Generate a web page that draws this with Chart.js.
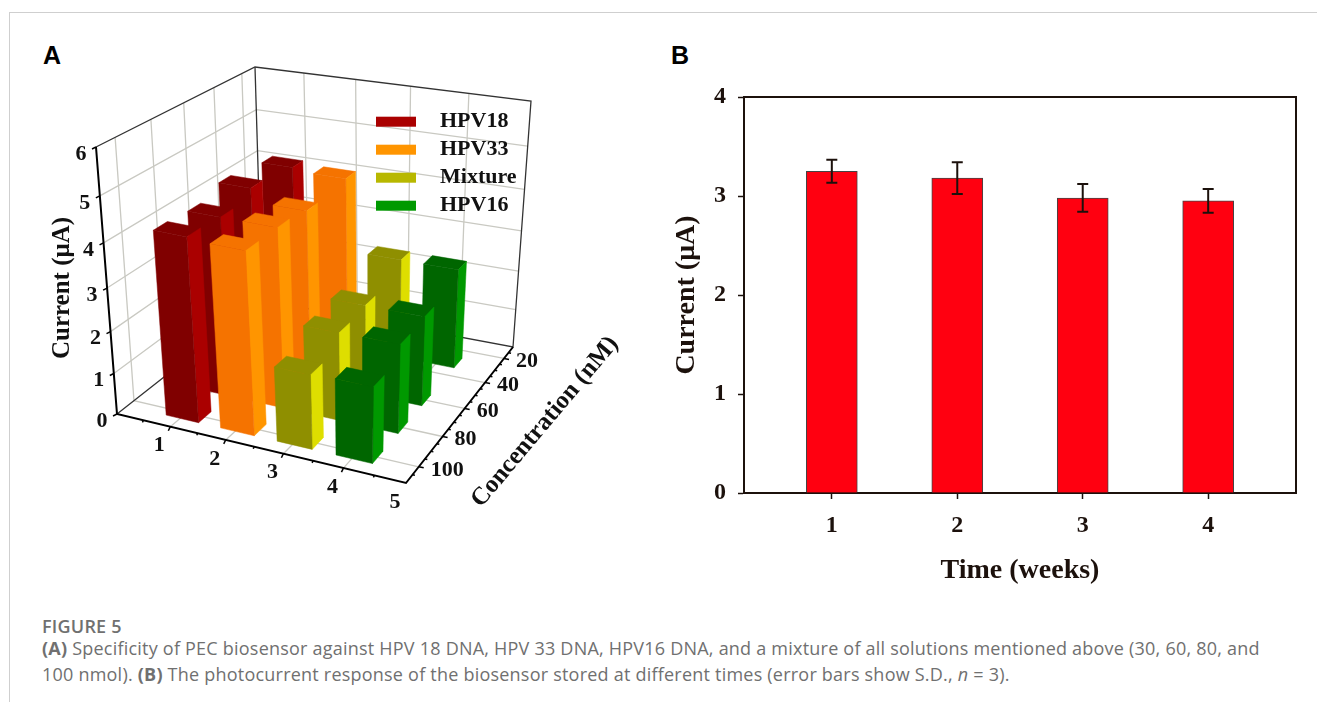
<!DOCTYPE html>
<html>
<head>
<meta charset="utf-8">
<title>Figure 5</title>
<script src="https://cdn.jsdelivr.net/npm/chart.js@4"></script>
<style>
  html, body { margin: 0; padding: 0; background: #fff; width: 1317px; height: 702px; overflow: hidden; }
  canvas { position: absolute; }
  .frame { position: absolute; left: 9px; top: 12px; width: 1308px; height: 690px; border-top: 1px solid #cfcfcf; border-left: 1px solid #cfcfcf; }
  .panel { position: absolute; font: 700 25px "Liberation Sans", sans-serif; color: #000; line-height: 25px; }
  .cap { position: absolute; left: 42px; font: 400 18px "Open Sans", sans-serif; letter-spacing: 0.22px; color: #707070; white-space: nowrap; line-height: 20px; }
</style>
</head>
<body>
<div class="frame"></div>
<div class="panel" style="left:43px;top:43px">A</div>
<div class="panel" style="left:671px;top:43px">B</div>
<canvas id="chartA" width="660" height="560" style="left:0;top:0"></canvas>
<canvas id="chartB" width="650" height="530" style="left:660px;top:60px"></canvas>
<div class="cap" style="top:616px;font-weight:600;">FIGURE 5</div>
<div class="cap" style="top:638px;"><b>(A)</b> Specificity of PEC biosensor against HPV 18 DNA, HPV 33 DNA, HPV16 DNA, and a mixture of all solutions mentioned above (30, 60, 80, and</div>
<div class="cap" style="top:664px;">100 nmol). <b>(B)</b> The photocurrent response of the biosensor stored at different times (error bars show S.D., <i>n</i> = 3).</div>

<script>
// panel A data
const seriesNames = ["HPV18", "HPV33", "Mixture", "HPV16"];
const concentrations = [100, 80, 60, 30];
const hpv18 = [4.3, 4.25, 4.45, 4.3];
const hpv33 = [4.25, 4.25, 4.15, 4.23];
const mixture = [1.78, 2.13, 2.2, 2.5];
const hpv16 = [1.82, 2.15, 2.2, 2.5];
const xTicks3d = [1, 2, 3, 4, 5];
const yTicks3d = [0, 1, 2, 3, 4, 5, 6];
const zTicks3d = [100, 80, 60, 40, 20];

// panel B data
const weeks = [1, 2, 3, 4];
const currentB = [3.25, 3.18, 2.98, 2.95];
const errorB = [0.115, 0.16, 0.14, 0.12];
const yTicksB = [0, 1, 2, 3, 4];

const seriesValues = [hpv18, hpv33, mixture, hpv16];
const faceColors = [
  { front: "#800000", side: "#aa0000", top: "#800000", key: "#aa0000" },
  { front: "#f57300", side: "#ff9500", top: "#f57300", key: "#ff9500" },
  { front: "#8f8f00", side: "#dede00", top: "#8f8f00", key: "#b8b800" },
  { front: "#006600", side: "#009900", top: "#006600", key: "#009900" },
];
const serif = '"Liberation Serif", serif';

// unit square -> quad, the frame of the 3d box
function homography(q) {
  const [p0, p1, p2, p3] = q;
  const dx1 = p1[0] - p2[0], dx2 = p3[0] - p2[0], sx = p0[0] - p1[0] + p2[0] - p3[0];
  const dy1 = p1[1] - p2[1], dy2 = p3[1] - p2[1], sy = p0[1] - p1[1] + p2[1] - p3[1];
  const det = dx1 * dy2 - dx2 * dy1;
  const g = (sx * dy2 - dx2 * sy) / det, h = (dx1 * sy - sx * dy1) / det;
  const a = p1[0] - p0[0] + g * p1[0], b = p3[0] - p0[0] + h * p3[0];
  const d = p1[1] - p0[1] + g * p1[1], e = p3[1] - p0[1] + h * p3[1];
  return (u, v) => {
    const w = g * u + h * v + 1;
    return [(a * u + b * v + p0[0]) / w, (d * u + e * v + p0[1]) / w];
  };
}

const floorMap = homography([[117, 414], [406, 483], [513, 347], [262, 300]]);
const ceilMap = homography([[96, 147], [416, 207], [531, 101], [255, 67]]);
const X_MAX = 5, Y_MAX = 6, Z_FRONT = 110, Z_BACK = 10, Y_PERSP = 1.12;

function project(x, y, z) {
  const u = x / X_MAX;
  const v = (Z_FRONT - z) / (Z_FRONT - Z_BACK);
  const t = y / Y_MAX;
  const s = t / (t + (1 - t) * Y_PERSP);
  const f = floorMap(u, v), c = ceilMap(u, v);
  return { x: f[0] + (c[0] - f[0]) * s, y: f[1] + (c[1] - f[1]) * s };
}

const datasets3d = [];
function addPath(points, color, width) {
  datasets3d.push({
    data: points, borderColor: color, borderWidth: width, backgroundColor: color,
    fill: false, pointRadius: 0, tension: 0, order: -datasets3d.length,
  });
}
function addFace(points, color) {
  datasets3d.push({
    data: [...points, points[0]], borderColor: color, borderWidth: 0.5, backgroundColor: color,
    fill: "shape", pointRadius: 0, tension: 0, order: -datasets3d.length,
  });
}

const GRID = "#c9c9c2", FRAME = "#333", AXIS = "#000";

// grid on walls and floor
yTicks3d.slice(1, -1).forEach((y) => {
  addPath([project(0, y, Z_FRONT), project(0, y, Z_BACK), project(X_MAX, y, Z_BACK)], GRID, 1.3);
});
xTicks3d.slice(0, -1).forEach((x) => {
  addPath([project(x, 0, Z_FRONT), project(x, 0, Z_BACK), project(x, Y_MAX, Z_BACK)], GRID, 1.3);
});
zTicks3d.forEach((z) => {
  addPath([project(X_MAX, 0, z), project(0, 0, z), project(0, Y_MAX, z)], GRID, 1.3);
});

// box frame
addPath([project(0, Y_MAX, Z_FRONT), project(0, Y_MAX, Z_BACK), project(X_MAX, Y_MAX, Z_BACK), project(X_MAX, 0, Z_BACK), project(0, 0, Z_BACK), project(0, 0, Z_FRONT)], FRAME, 1.3);
addPath([project(0, 0, Z_BACK), project(0, Y_MAX, Z_BACK)], FRAME, 1.3);

// bars, far ones first so nearer ones paint over them
const BAR_HALF_X = 0.3, BAR_HALF_Z = 4, BAR_SHIFT_X = 0.04;
seriesNames.forEach((name, i) => {
  const cx = i + 1 + BAR_SHIFT_X;
  const x0 = cx - BAR_HALF_X, x1 = cx + BAR_HALF_X;
  const rows = concentrations.map((z, j) => ({ z, h: seriesValues[i][j] })).sort((a, b) => a.z - b.z);
  rows.forEach(({ z, h }) => {
    const zb = z - BAR_HALF_Z, zf = z + BAR_HALF_Z;
    addFace([project(x0, h, zf), project(x1, h, zf), project(x1, h, zb), project(x0, h, zb)], faceColors[i].top);
    addFace([project(x1, 0, zf), project(x1, 0, zb), project(x1, h, zb), project(x1, h, zf)], faceColors[i].side);
    addFace([project(x0, 0, zf), project(x1, 0, zf), project(x1, h, zf), project(x0, h, zf)], faceColors[i].front);
  });
});

// axes and ticks, these sit on the front edges
addPath([project(0, Y_MAX, Z_FRONT), project(0, 0, Z_FRONT), project(X_MAX, 0, Z_FRONT), project(X_MAX, 0, Z_BACK)], AXIS, 2);
yTicks3d.forEach((y) => {
  const p = project(0, y, Z_FRONT);
  addPath([p, { x: p.x - 4, y: p.y + 2 }], AXIS, 1.5);
});
[1, 1.5, 2, 2.5, 3, 3.5, 4, 4.5, 0.5].forEach((x) => {
  const p = project(x, 0, Z_FRONT);
  const len = Number.isInteger(x) ? 4 : 2;
  addPath([p, { x: p.x - len * 0.5, y: p.y + len }], AXIS, 1.5);
});
[105, 100, 95, 90, 85, 80, 75, 70, 65, 60, 55, 50, 45, 40, 35, 30, 25, 20, 15].forEach((z) => {
  const p = project(X_MAX, 0, z);
  const len = z % 20 === 0 ? 5 : 2.5;
  addPath([p, { x: p.x + len, y: p.y + len * 0.2 }], AXIS, 1.5);
});

const labels3d = {
  id: "labels3d",
  afterDatasetsDraw(chart) {
    const ctx = chart.ctx;
    ctx.save();
    ctx.fillStyle = "#111";
    ctx.textBaseline = "middle";
    ctx.font = `bold 22px ${serif}`;
    ctx.textAlign = "center";
    yTicks3d.forEach((y) => {
      const p = project(0, y, Z_FRONT);
      ctx.fillText(String(y), p.x - 15, p.y + 7);
    });
    xTicks3d.forEach((x) => {
      const p = project(x, 0, Z_FRONT);
      ctx.fillText(String(x), p.x - 11, p.y + 19);
    });
    ctx.textAlign = "left";
    zTicks3d.forEach((z) => {
      const p = project(X_MAX, 0, z);
      ctx.fillText(String(z), p.x + 12, p.y + 3);
    });

    // legend
    ctx.font = `bold 22px ${serif}`;
    seriesNames.forEach((name, i) => {
      const ly = 121.7 + i * 28;
      ctx.fillStyle = faceColors[i].key;
      ctx.fillRect(376, ly - 5, 40, 10);
      ctx.fillStyle = "#111";
      ctx.fillText(name, 440, ly);
    });

    // axis titles
    ctx.font = `bold 25px ${serif}`;
    ctx.textAlign = "center";
    ctx.save();
    ctx.translate(63, 288);
    ctx.rotate(-Math.PI / 2);
    ctx.fillText("Current (\u03bcA)", 0, 0);
    ctx.restore();
    ctx.save();
    ctx.translate(545, 422);
    ctx.rotate((-50 * Math.PI) / 180);
    ctx.fillText("Concentration (nM)", 0, 0);
    ctx.restore();
    ctx.restore();
  },
};

new Chart(document.getElementById("chartA"), {
  type: "line",
  data: { datasets: datasets3d },
  plugins: [labels3d],
  options: {
    responsive: false,
    animation: false,
    layout: { padding: 0 },
    clip: false,
    plugins: { legend: { display: false }, tooltip: { enabled: false }, filler: { propagate: false } },
    scales: {
      x: { type: "linear", display: false, min: 0, max: 660 },
      y: { type: "linear", display: false, min: 0, max: 560, reverse: true },
    },
  },
});

const INK = "#1c110c";

// draws the S.D. whiskers from the same scales as the bars
const errorBars = {
  id: "errorBars",
  afterDatasetsDraw(chart) {
    const { ctx, scales } = chart;
    ctx.save();
    ctx.strokeStyle = INK;
    ctx.lineWidth = 2;
    weeks.forEach((w, i) => {
      const px = scales.x.getPixelForValue(w);
      const hi = scales.y.getPixelForValue(currentB[i] + errorB[i]);
      const lo = scales.y.getPixelForValue(currentB[i] - errorB[i]);
      ctx.beginPath();
      ctx.moveTo(px, hi);
      ctx.lineTo(px, lo);
      ctx.moveTo(px - 5.5, hi);
      ctx.lineTo(px + 5.5, hi);
      ctx.moveTo(px - 5.5, lo);
      ctx.lineTo(px + 5.5, lo);
      ctx.stroke();
    });
    // closes the box on top and right
    const a = chart.chartArea;
    ctx.lineWidth = 2;
    ctx.beginPath();
    ctx.moveTo(a.left, a.top);
    ctx.lineTo(a.right, a.top);
    ctx.lineTo(a.right, a.bottom);
    ctx.stroke();
    ctx.restore();
  },
};

new Chart(document.getElementById("chartB"), {
  type: "bar",
  data: {
    labels: weeks,
    datasets: [{
      data: weeks.map((w, i) => ({ x: w, y: currentB[i] })),
      backgroundColor: "#ff0010",
      borderColor: "#444",
      borderWidth: 1,
      barThickness: 51,
    }],
  },
  plugins: [errorBars],
  options: {
    responsive: false,
    animation: false,
    layout: { padding: { top: 37, right: 14, left: 0, bottom: 0 } },
    plugins: { legend: { display: false }, tooltip: { enabled: false } },
    scales: {
      x: {
        type: "linear",
        min: 0.3,
        max: 4.7,
        offset: false,
        afterBuildTicks: (scale) => { scale.ticks = weeks.map((w) => ({ value: w })); },
        afterFit: (scale) => { scale.height = 97; },
        grid: { offset: false, drawOnChartArea: false, tickLength: 6, tickColor: INK, tickWidth: 1.5 },
        border: { color: INK, width: 2 },
        ticks: { color: INK, font: { family: "Liberation Serif", size: 24, weight: "bold" }, padding: 12, maxRotation: 0 },
        title: { display: true, text: "Time (weeks)", color: INK, font: { family: "Liberation Serif", size: 28, weight: "bold" }, padding: { top: 0, bottom: 2 } },
      },
      y: {
        min: 0,
        max: 4,
        afterBuildTicks: (scale) => { scale.ticks = yTicksB.map((v) => ({ value: v })); },
        afterFit: (scale) => { scale.width = 84; },
        grid: { drawOnChartArea: false, tickLength: 6, tickColor: INK, tickWidth: 1.5 },
        border: { color: INK, width: 2 },
        ticks: { color: INK, font: { family: "Liberation Serif", size: 24, weight: "bold" }, padding: 12 },
        title: { display: true, text: "Current (\u03bcA)", color: INK, font: { family: "Liberation Serif", size: 28, weight: "bold" }, padding: { top: 10, bottom: 0 } },
      },
    },
  },
});
</script>
</body>
</html>
